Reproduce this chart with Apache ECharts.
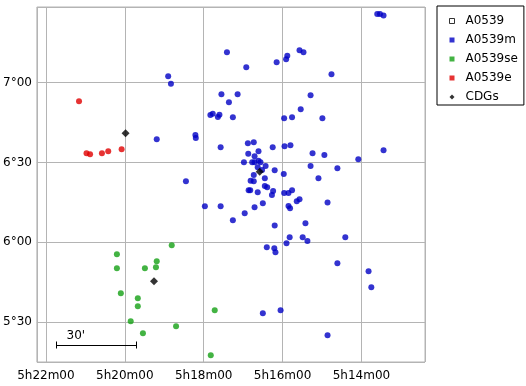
<!DOCTYPE html>
<html><head><meta charset="utf-8">
<script src="https://cdn.jsdelivr.net/npm/echarts@6/dist/echarts.min.js"></script>
<style>html,body{margin:0;padding:0;background:#fff}#c{width:526px;height:386px}</style>
</head><body><div id="c"></div>
<script>
// RA in minutes of time after 5h, Dec in degrees
var raTicks = [14, 16, 18, 20, 22];
var decTicks = [5.5, 6.0, 6.5, 7.0];

var A0539 = [];

var A0539m = [
[13.60,7.431],[13.53,7.431],[13.44,7.422],[17.41,7.191],[16.92,7.097],[16.15,7.128],[15.88,7.169],[15.91,7.147],
[15.57,7.203],[15.47,7.191],[14.76,7.053],[18.90,7.040],[18.83,6.994],[17.55,6.927],[17.14,6.927],[17.36,6.877],
[17.83,6.798],[17.77,6.806],[17.64,6.785],[17.60,6.799],[17.26,6.783],[15.29,6.921],[15.54,6.833],[15.96,6.777],
[15.76,6.783],[14.99,6.777],[18.21,6.672],[18.20,6.653],[19.19,6.645],[17.57,6.595],[16.88,6.620],[16.73,6.626],
[16.25,6.595],[15.95,6.601],[15.80,6.608],[16.87,6.555],[16.61,6.570],[16.71,6.539],[15.24,6.557],[14.94,6.547],
[16.98,6.501],[16.77,6.501],[16.61,6.511],[16.71,6.501],[16.56,6.501],[16.43,6.478],[16.63,6.470],[16.52,6.453],
[16.73,6.421],[16.20,6.451],[15.97,6.428],[15.29,6.478],[14.61,6.463],[15.09,6.401],[18.45,6.382],[16.81,6.386],
[16.73,6.382],[16.45,6.401],[16.86,6.326],[16.82,6.326],[16.63,6.313],[16.45,6.353],[16.39,6.344],[16.24,6.321],
[16.27,6.296],[15.96,6.309],[15.85,6.309],[15.76,6.326],[15.64,6.257],[15.57,6.269],[14.86,6.249],[17.97,6.225],
[17.57,6.225],[16.71,6.219],[16.50,6.245],[15.85,6.227],[15.81,6.213],[16.96,6.181],[17.26,6.138],[16.20,6.105],
[15.42,6.119],[15.82,6.031],[15.49,6.031],[15.37,6.007],[14.41,6.031],[16.40,5.968],[16.21,5.962],[16.18,5.937],
[15.90,5.993],[14.61,5.868],[13.82,5.818],[13.75,5.718],[16.50,5.555],[16.05,5.573],[14.86,5.417],[14.08,6.520],
[13.44,6.576]
];

var A0539se = [
[18.81,5.981],[20.20,5.924],[19.19,5.881],[19.49,5.837],[19.21,5.843],[20.20,5.837],[20.10,5.680],[19.67,5.649],
[19.67,5.599],[19.85,5.504],[18.70,5.473],[19.54,5.429],[17.72,5.573],[17.82,5.291]
];

var A0539e = [
[21.16,6.883],[20.97,6.557],[20.88,6.551],[20.58,6.557],[20.42,6.570],[20.08,6.583]
];

var CDGs = [
[19.98,6.683],[19.26,5.755],[16.58,6.442]
];

// scale bar: start position (RA min, Dec deg) and length in arcmin
var scaleBarStart = [21.74, 5.356];
var scaleBarArcmin = 30;
var scaleBarLabel = "30'";

var FONT = 'DejaVu Sans';
var chart = echarts.init(document.getElementById('c'), null, {renderer: 'canvas'});

function fmtRA(v){ return '5h' + Math.round(v) + 'm00'; }
function fmtDec(v){
  var d = Math.floor(v + 1e-9); var m = Math.round((v - d) * 60);
  return d + '\u00b0' + (m < 10 ? '0' + m : m);
}

chart.setOption({
  animation: false,
  backgroundColor: '#fff',
  grid: {left: 36, right: 101, top: 7, bottom: 24, show: true, borderColor: '#b4b4b4', borderWidth: 1, backgroundColor: 'transparent'},
  xAxis: {
    type: 'value', inverse: true, min: 12.389, max: 22.228,
    minInterval: 2, maxInterval: 2, splitNumber: 5,
    axisLine: {show: false}, axisTick: {show: false},
    axisLabel: {showMinLabel: false, showMaxLabel: false, formatter: function(v){ return raTicks.indexOf(Math.round(v)) >= 0 && Math.abs(v - Math.round(v)) < 1e-6 ? fmtRA(v) : ''; }, color: '#000', fontFamily: FONT, fontSize: 12, margin: 8},
    splitLine: {show: true, lineStyle: {color: '#b4b4b4', width: 1}}
  },
  yAxis: {
    type: 'value', min: 5.2493, max: 7.4745,
    minInterval: 0.5, maxInterval: 0.5, splitNumber: 4,
    axisLine: {show: false}, axisTick: {show: false},
    axisLabel: {showMinLabel: false, showMaxLabel: false, formatter: function(v){ return decTicks.some(function(t){return Math.abs(t - v) < 1e-6;}) ? fmtDec(v) : ''; }, color: '#000', fontFamily: FONT, fontSize: 12, margin: 5},
    splitLine: {show: true, lineStyle: {color: '#b4b4b4', width: 1}}
  },
  legend: {
    orient: 'vertical', left: 437, top: 6,
    padding: [8, 6, 1, 12],
    itemGap: 5, itemWidth: 5, itemHeight: 5,
    borderColor: '#000', borderWidth: 1, backgroundColor: '#fff',
    selectedMode: false,
    textStyle: {fontFamily: FONT, fontSize: 12, color: '#000', lineHeight: 14, padding: [0, 0, 0, 6]},
    data: [
      {name: 'A0539', icon: 'rect', itemStyle: {color: '#fff', borderColor: '#000', borderWidth: 1}},
      {name: 'A0539m', icon: 'rect'},
      {name: 'A0539se', icon: 'rect'},
      {name: 'A0539e', icon: 'rect'},
      {name: 'CDGs', icon: 'diamond'}
    ]
  },
  series: [
    {name: 'A0539', type: 'scatter', data: A0539, symbol: 'rect', symbolSize: 5, itemStyle: {color: '#fff', borderColor: '#000', borderWidth: 1}},
    {name: 'A0539m', type: 'scatter', data: A0539m, symbol: 'circle', symbolSize: 6, itemStyle: {color: '#0000c4'}},
    {name: 'A0539se', type: 'scatter', data: A0539se, symbol: 'circle', symbolSize: 6, itemStyle: {color: '#14a014'}},
    {name: 'A0539e', type: 'scatter', data: A0539e, symbol: 'circle', symbolSize: 6, itemStyle: {color: '#e00000'}},
    {name: 'CDGs', type: 'scatter', data: CDGs, symbol: 'diamond', symbolSize: [8, 8], itemStyle: {color: '#000'}, z: 5},
    {
      name: 'scalebar', type: 'custom', data: [scaleBarStart], silent: true, z: 6,
      renderItem: function(params, api){
        var p = api.coord([api.value(0), api.value(1)]);
        var len = api.size([0, scaleBarArcmin / 60])[1];
        var x0 = Math.round(p[0]) + 0.5, x1 = Math.round(p[0] + len) + 0.5, y = Math.round(p[1]) + 0.5;
        var st = {stroke: '#000', lineWidth: 1};
        return {type: 'group', children: [
          {type: 'line', shape: {x1: x0, y1: y, x2: x1, y2: y}, style: st},
          {type: 'line', shape: {x1: x0, y1: y - 4, x2: x0, y2: y + 3}, style: st},
          {type: 'line', shape: {x1: x1, y1: y - 4, x2: x1, y2: y + 3}, style: st},
          {type: 'text', x: x0 + 10, y: y - 4, style: {text: scaleBarLabel, fill: '#000', font: '12px "DejaVu Sans"', textVerticalAlign: 'bottom', verticalAlign: 'bottom'}}
        ]};
      }
    }
  ]
});
</script>
</body></html>
